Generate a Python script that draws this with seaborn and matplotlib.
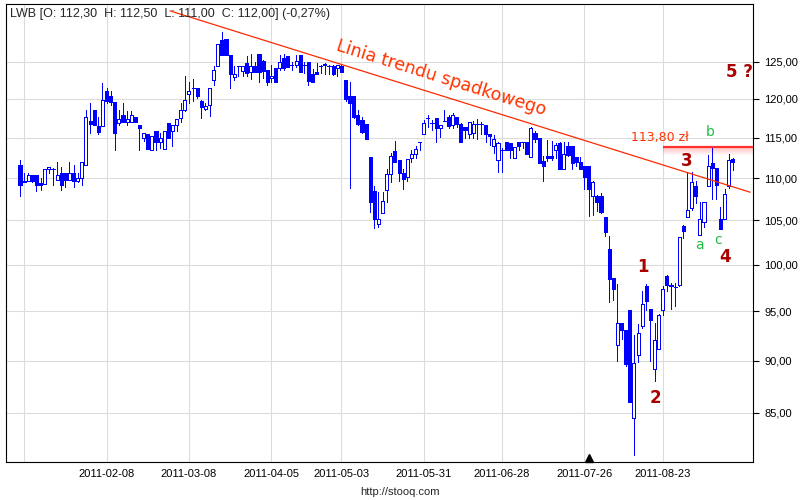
import numpy as np
import pandas as pd
import matplotlib
matplotlib.use("Agg")
import matplotlib.pyplot as plt
import matplotlib.transforms as mtransforms
from matplotlib.ticker import FixedLocator, FuncFormatter, NullLocator
import seaborn as sns

# --- data (LWB daily candles) ---
holidays = ["2011-04-22", "2011-04-25", "2011-05-03", "2011-06-23", "2011-08-15"]
dates = pd.bdate_range("2011-01-10", "2011-09-15", freq="C", holidays=holidays)

opens = [
    111.6, 109.7, 109.7, 110.4, 110.4, 109.4, 109.3, 111.1, 111.1, 109.8,
    110.6, 110.6, 109.8, 110.6, 109.6, 110.0, 111.6, 117.1, 118.5, 116.5,
    116.5, 121.0, 120.4, 119.6, 116.8, 117.9, 117.0, 117.0, 117.7, 116.6,
    115.0, 115.4, 113.5, 115.9, 114.4, 113.6, 116.9, 115.8, 116.6, 117.5,
    118.6, 120.7, 121.5, 121.5, 119.7, 118.7, 119.2, 122.5, 124.4, 128.1,
    128.2, 126.0, 122.9, 124.4, 123.8, 124.9, 123.6, 124.4, 126.1, 125.1,
    123.9, 122.8, 124.1, 124.1, 125.5, 125.8, 124.5, 124.5, 125.9, 124.5,
    125.0, 123.3, 123.6, 124.4, 124.7, 124.4, 124.4, 124.1, 124.4, 122.5,
    120.4, 120.4, 117.9, 117.3, 116.7, 112.6, 108.4, 104.6, 105.8, 108.6,
    110.5, 113.3, 112.2, 110.6, 110.1, 112.5, 112.9, 114.4, 115.4, 117.5,
    116.8, 117.5, 116.2, 117.1, 117.7, 116.6, 117.7, 116.7, 116.3, 115.4,
    115.6, 116.7, 116.7, 116.6, 115.4, 114.0, 112.2, 113.5, 114.5, 114.3,
    112.5, 114.4, 114.4, 114.5, 112.6, 115.6, 114.9, 112.1, 112.7, 112.7,
    113.5, 114.3, 111.1, 114.0, 114.0, 112.6, 112.0, 111.5, 111.5, 107.9,
    107.9, 107.9, 105.4, 101.7, 98.6, 91.6, 93.8, 93.1, 95.1, 84.5,
    90.6, 93.5, 97.7, 95.3, 89.2, 91.1, 95.1, 98.8, 97.8, 97.6,
    97.8, 104.3, 105.4, 106.4, 109.1, 103.3, 104.8, 109.1, 111.8, 111.2,
    105.2, 105.2, 109.1, 112.3,
]
highs = [
    112.2, 110.6, 110.6, 110.4, 110.4, 110.0, 111.1, 111.4, 111.2, 112.0,
    111.3, 110.6, 112.0, 111.6, 110.6, 112.0, 118.6, 119.4, 118.5, 117.7,
    122.1, 121.5, 121.0, 119.6, 118.5, 119.4, 118.4, 118.4, 117.7, 116.6,
    115.6, 115.4, 115.2, 115.9, 115.6, 115.9, 116.9, 116.6, 117.4, 119.4,
    123.1, 122.3, 122.7, 121.5, 119.9, 119.4, 121.5, 124.4, 127.5, 129.2,
    128.2, 126.0, 124.4, 124.4, 124.4, 125.8, 126.1, 125.0, 126.1, 125.2,
    123.9, 124.6, 124.1, 125.9, 126.1, 125.8, 125.0, 126.0, 125.9, 125.0,
    125.0, 124.0, 124.8, 124.5, 124.9, 124.6, 124.5, 124.6, 124.5, 122.5,
    122.3, 120.4, 118.6, 117.7, 116.7, 112.6, 109.0, 108.3, 108.3, 111.1,
    113.1, 114.6, 112.2, 111.1, 112.3, 113.5, 113.9, 114.4, 117.3, 117.9,
    117.3, 117.5, 116.6, 118.5, 117.9, 118.1, 117.7, 116.9, 116.3, 117.0,
    117.1, 117.4, 117.0, 116.6, 115.4, 115.3, 114.5, 113.7, 114.5, 114.3,
    113.8, 114.4, 114.4, 114.5, 116.4, 115.9, 114.9, 112.7, 114.7, 114.6,
    114.3, 114.4, 114.4, 114.4, 114.0, 112.6, 112.6, 111.5, 111.5, 109.7,
    108.0, 108.2, 105.4, 103.2, 98.6, 97.9, 93.8, 93.1, 95.1, 92.6,
    93.7, 97.1, 97.9, 95.3, 93.8, 94.7, 97.7, 98.9, 98.0, 98.0,
    103.1, 104.5, 110.7, 110.7, 109.7, 107.1, 107.1, 112.8, 113.8, 111.2,
    106.5, 108.7, 112.9, 112.5,
]
lows = [
    107.9, 109.5, 109.6, 109.5, 108.4, 108.6, 109.3, 110.6, 109.2, 109.8,
    108.6, 108.9, 109.8, 108.9, 109.5, 109.2, 111.6, 115.6, 116.6, 115.5,
    116.5, 119.4, 119.2, 113.5, 116.6, 117.0, 116.6, 117.0, 117.0, 113.5,
    114.6, 113.6, 113.5, 113.5, 113.7, 113.6, 114.9, 113.9, 115.9, 117.0,
    118.4, 119.4, 119.7, 120.1, 117.5, 118.6, 117.8, 121.9, 124.4, 125.9,
    125.9, 121.4, 122.5, 123.0, 123.1, 123.0, 122.7, 123.6, 122.3, 122.8,
    121.9, 122.3, 122.3, 123.9, 123.9, 124.3, 123.9, 124.3, 123.6, 123.5,
    121.9, 122.3, 123.3, 123.5, 123.3, 123.3, 123.2, 123.1, 123.6, 119.7,
    108.8, 117.5, 116.6, 115.6, 114.8, 106.0, 104.1, 104.2, 105.8, 107.1,
    109.5, 111.9, 109.6, 108.7, 109.7, 111.9, 112.4, 113.5, 115.4, 116.4,
    116.0, 114.4, 115.1, 117.1, 116.2, 116.2, 116.3, 114.4, 114.9, 114.9,
    114.9, 114.8, 115.5, 114.4, 114.1, 113.1, 110.7, 110.7, 113.4, 112.5,
    112.5, 113.5, 113.7, 112.9, 112.6, 114.5, 111.8, 109.6, 112.1, 112.2,
    112.5, 111.1, 111.1, 112.7, 111.1, 111.5, 111.1, 108.7, 105.5, 105.6,
    106.1, 105.9, 103.2, 96.0, 96.2, 90.0, 92.2, 89.5, 86.0, 81.1,
    89.9, 93.3, 95.1, 90.0, 88.0, 91.1, 94.6, 97.2, 95.3, 95.6,
    97.7, 103.0, 105.4, 106.2, 107.0, 103.3, 104.2, 109.1, 107.5, 107.5,
    104.0, 105.2, 108.8, 111.0,
]
closes = [
    109.2, 109.5, 110.4, 109.6, 109.2, 109.2, 111.1, 111.3, 111.1, 110.4,
    109.2, 109.8, 110.6, 109.6, 110.0, 112.0, 117.6, 116.7, 116.6, 115.7,
    119.9, 119.7, 119.6, 115.6, 117.4, 117.0, 117.4, 117.9, 117.0, 116.2,
    115.6, 113.6, 115.2, 114.5, 115.0, 115.9, 115.0, 116.6, 117.4, 118.6,
    119.9, 121.0, 121.5, 120.4, 118.9, 119.1, 121.5, 123.9, 127.5, 125.9,
    125.9, 123.4, 123.4, 124.4, 124.4, 123.5, 124.4, 123.6, 123.6, 123.7,
    122.3, 123.1, 122.3, 125.0, 124.1, 124.3, 124.5, 125.1, 123.6, 124.6,
    122.4, 122.3, 123.3, 124.4, 124.5, 124.4, 123.3, 124.5, 123.6, 120.0,
    119.4, 117.7, 116.7, 115.7, 114.8, 107.1, 105.1, 105.2, 107.2, 110.5,
    112.7, 112.0, 110.6, 109.9, 112.3, 113.0, 113.6, 114.4, 116.8, 117.5,
    116.8, 116.2, 116.6, 117.1, 116.5, 117.9, 116.7, 114.5, 116.0, 117.0,
    116.7, 116.7, 116.7, 115.4, 115.2, 114.8, 114.3, 113.5, 113.5, 113.5,
    113.8, 113.9, 114.4, 113.0, 116.2, 114.8, 111.8, 111.5, 112.4, 112.4,
    114.1, 111.1, 113.0, 112.8, 111.8, 111.9, 111.1, 110.1, 108.7, 109.5,
    107.1, 106.0, 103.7, 98.4, 97.4, 93.8, 93.1, 89.7, 86.0, 89.8,
    92.8, 95.8, 96.1, 94.1, 92.1, 94.6, 97.4, 97.8, 97.7, 97.6,
    103.1, 103.8, 106.2, 109.5, 107.9, 105.1, 107.1, 111.5, 111.2, 109.2,
    104.0, 108.1, 112.2, 112.0,
]

tick_dates = ["2011-01-11", "2011-02-08", "2011-03-08", "2011-04-05", "2011-05-03",
              "2011-05-31", "2011-06-28", "2011-07-26", "2011-08-23"]
tick_labels = ["", "2011-02-08", "2011-03-08", "2011-04-05", "2011-05-03",
               "2011-05-31", "2011-06-28", "2011-07-26", "2011-08-23"]
price_ticks = [85, 90, 95, 100, 105, 110, 115, 120, 125]

# trend line anchors (trading-day index, price) and resistance level
trend_idx = [36.4, 177.2]
trend_price = [132.2, 108.3]
resistance = 113.8
event_date = "2011-07-27"

# --- style ---
sns.set_style("whitegrid", {"grid.color": "#dcdcdc", "axes.edgecolor": "black"})
plt.rcParams["font.family"] = ["Liberation Sans", "DejaVu Sans"]

blue = "#0000ff"
red = "#ff3300"
dark_red = "#aa0000"
green = "#22bb44"

df = pd.DataFrame({"date": dates, "open": opens, "high": highs,
                   "low": lows, "close": closes})
df["idx"] = np.arange(len(df))
df["up"] = df["close"] >= df["open"]
df["lo"] = df[["open", "close"]].min(axis=1)
df["hi"] = df[["open", "close"]].max(axis=1)

fig = plt.figure(figsize=(8, 5), dpi=100)
ax = fig.add_axes([6 / 800, 38 / 500, 747 / 800, 458 / 500])
ax.set_yscale("log")

# candles: wicks, then bodies (hollow = up day)
ax.vlines(df["idx"], df["low"], df["high"], color=blue, lw=0.72, antialiased=False, zorder=3)
ax.bar(df["idx"], df["hi"] - df["lo"], bottom=df["lo"], width=0.75,
       color=np.where(df["up"], "white", blue), edgecolor=blue, linewidth=0.6,
       antialiased=False, zorder=4)

# trend line
sns.lineplot(x=trend_idx, y=trend_price, ax=ax, color="#ff2a00", lw=0.9, zorder=5)
ax.text(102.2, 122.8, "Linia trendu spadkowego", color=red, fontsize=12.5,
        family="DejaVu Sans", rotation=-17.3, rotation_mode="anchor",
        ha="center", va="center", zorder=6)

# resistance level with a soft fade below
x0 = df.index[df["date"] >= pd.Timestamp("2011-08-23")][0]
x1 = len(df) + 4
levels = np.geomspace(resistance, resistance * 0.991, 9)
for k in range(len(levels) - 1):
    ax.fill_between([x0, x1], levels[k + 1], levels[k], color="#ff5050",
                    alpha=0.35 * (1 - k / 8), lw=0, zorder=2)
ax.hlines(resistance, x0, x1, color="#ff3030", lw=1.6, zorder=5)
ax.text(x0 - 0.6, 115.0, "113,80 zł", color=red, fontsize=9,
        family="DejaVu Sans", ha="center", va="center", zorder=6)

# wave labels
for lbl, xi, yp in [("1", 151.2, 99.8), ("2", 154.1, 86.4), ("3", 161.9, 112.1),
                    ("4", 171.1, 100.9), ("5 ?", 174.6, 123.6)]:
    ax.text(xi, yp, lbl, color=dark_red, fontsize=12, fontweight="bold",
            family="DejaVu Sans", ha="center", va="center", zorder=6)
for lbl, xi, yp in [("a", 164.8, 102.2), ("b", 167.5, 115.7), ("c", 169.4, 102.7)]:
    ax.text(xi, yp, lbl, color=green, fontsize=10, family="DejaVu Sans",
            ha="center", va="center", zorder=6)

# event marker on the bottom axis
ev = df.index[df["date"] >= pd.Timestamp(event_date)][0]
trans = mtransforms.blended_transform_factory(ax.transData, ax.transAxes)
ax.plot([ev], [0.009], marker="^", ms=6, color="black", transform=trans,
        clip_on=False, zorder=7)

# axes
ax.set_xlim(-3.4, 177.9)
ax.set_ylim(80.5, 133.2)
tick_pos = [int(df["date"].searchsorted(pd.Timestamp(d), side="right")) - 1 for d in tick_dates]
ax.xaxis.set_major_locator(FixedLocator(tick_pos))
ax.set_xticklabels(tick_labels)
ax.yaxis.set_major_locator(FixedLocator(price_ticks))
ax.yaxis.set_minor_locator(NullLocator())
ax.yaxis.set_major_formatter(FuncFormatter(lambda v, p: f"{v:.2f}".replace(".", ",")))
ax.yaxis.tick_right()
ax.tick_params(axis="y", which="major", direction="out", length=4, width=0.8,
               pad=4, labelsize=8, colors="black", right=True, left=False)
ax.tick_params(axis="x", length=0, pad=5, labelsize=8, colors="black")
ax.grid(True, color="#dcdcdc", lw=0.8)
ax.set_axisbelow(True)
for s in ax.spines.values():
    s.set_color("black")
    s.set_linewidth(0.8)
ax.set_xlabel("")
ax.set_ylabel("")

ax.text(0.005, 0.991, "LWB [O: 112,30  H: 112,50  L: 111,00  C: 112,00] (-0,27%)",
        transform=ax.transAxes, ha="left", va="top", fontsize=9, zorder=8)
fig.text(0.5, 1 - 492 / 500, "http://stooq.com", ha="center", va="center", fontsize=8)

fig.savefig("out.png", dpi=100)
